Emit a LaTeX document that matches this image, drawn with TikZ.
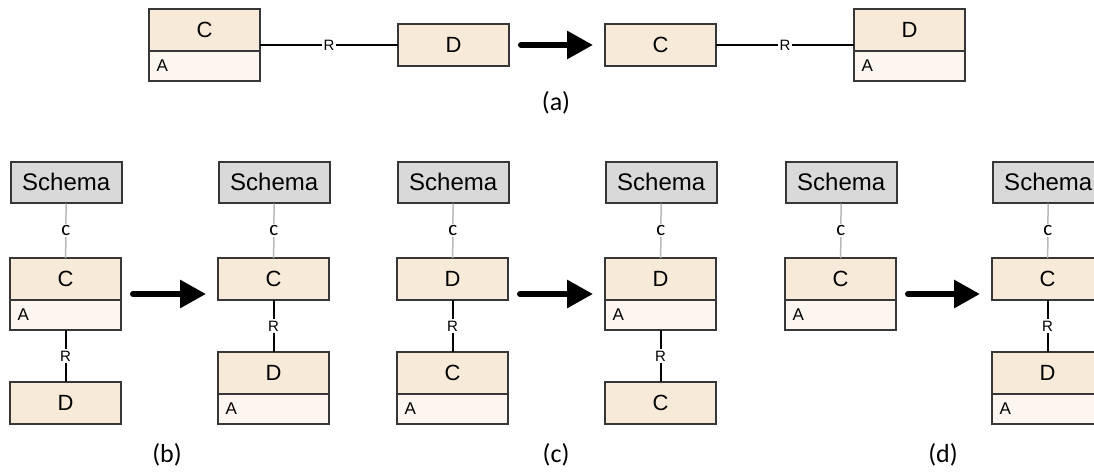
\documentclass[tikz,border=0pt]{standalone}
\usepackage{fontspec}
\setmainfont{Liberation Sans}
\newfontfamily\capfont{Carlito}
\usepackage{tikz}
\definecolor{headFill}{RGB}{248,234,216}
\definecolor{attrFill}{RGB}{253,246,240}
\definecolor{schemaGray}{RGB}{217,217,217}
\definecolor{boxLine}{RGB}{55,55,55}
\definecolor{containGray}{RGB}{185,185,185}
\usetikzlibrary{arrows.meta, positioning, fit}

\begin{document}
\begin{tikzpicture}[
    x=1pt, y=-1pt,
    classbox/.style={rectangle, draw=boxLine, line width=1.5pt, fill=headFill, minimum width=111pt, minimum height=42pt, outer sep=0pt, anchor=north west, font=\fontsize{22}{24}\selectfont},
    attrbox/.style={rectangle, draw=boxLine, line width=1.5pt, fill=attrFill, text width=96pt, inner xsep=7.5pt, align=left, minimum height=30pt, outer sep=0pt, font=\fontsize{17}{18}\selectfont},
    wholebox/.style={inner sep=0pt, outer sep=0pt},
    schemabox/.style={rectangle, draw=boxLine, line width=1.5pt, fill=schemaGray, minimum width=111pt, minimum height=41pt, anchor=north west, font=\fontsize{24}{26}\selectfont},
    rel/.style={draw=black, line width=1.3pt},
    relv/.style={draw=black, line width=2pt},
    contain/.style={draw=containGray, line width=1.5pt},
    rlabel/.style={fill=white, inner sep=1.5pt, font=\fontsize{15}{16}\selectfont},
    clabel/.style={fill=white, inner sep=1.5pt, font=\capfont\fontsize{21}{22}\selectfont},
    bigarrow/.style={line width=6pt, line cap=round, shorten <=12pt, shorten >=12pt, -{Triangle[length=26pt,width=27pt]}},
    caption/.style={font=\capfont\fontsize{26}{28}\selectfont}
]
    \useasboundingbox (0,0) rectangle (1094,471);

    % (a)
    \node[classbox] (aC1h) at (149,9) {C};
    \node[attrbox, below=0pt of aC1h] (aC1a) {A};
    \node[wholebox, fit=(aC1h)(aC1a)] (aC1) {};
    \node[classbox] (aD1) at (398,24) {D};
    \node[classbox] (aC2) at (605,24) {C};
    \node[classbox] (aD2h) at (854,9) {D};
    \node[attrbox, below=0pt of aD2h] (aD2a) {A};
    \node[wholebox, fit=(aD2h)(aD2a)] (aD2) {};
    \draw[rel] (aC1) -- node[rlabel] {R} (aD1);
    \draw[rel] (aC2) -- node[rlabel] {R} (aD2);
    \draw[bigarrow] (aD1) -- (aC2);
    \node[caption] (capA) at (556,103) {(a)};

    % (b)
    \node[schemabox] (b1S) at (10,161) {Schema};
    \node[classbox] (b1Ch) at (10,258) {C};
    \node[attrbox, below=0pt of b1Ch] (b1Ca) {A};
    \node[wholebox, fit=(b1Ch)(b1Ca)] (b1C) {};
    \node[classbox] (b1D) at (10,382) {D};
    \node[schemabox] (b2S) at (218,161) {Schema};
    \node[classbox] (b2C) at (218,258) {C};
    \node[classbox] (b2Dh) at (218,352) {D};
    \node[attrbox, below=0pt of b2Dh] (b2Da) {A};
    \draw[contain] (b1S) -- node[clabel] {c} (b1Ch);
    \draw[relv] (b1Ca) -- node[rlabel] {R} (b1D);
    \draw[contain] (b2S) -- node[clabel] {c} (b2C);
    \draw[relv] (b2C) -- node[rlabel] {R} (b2Dh);
    \draw[bigarrow] (b1C) -- (b1C -| b2C.west);
    \node[caption] (capB) at (167,455) {(b)};

    % (c)
    \node[schemabox] (c1S) at (397,161) {Schema};
    \node[classbox] (c1D) at (397,258) {D};
    \node[classbox] (c1Ch) at (397,352) {C};
    \node[attrbox, below=0pt of c1Ch] (c1Ca) {A};
    \node[schemabox] (c2S) at (605,161) {Schema};
    \node[classbox] (c2Dh) at (605,258) {D};
    \node[attrbox, below=0pt of c2Dh] (c2Da) {A};
    \node[wholebox, fit=(c2Dh)(c2Da)] (c2D) {};
    \node[classbox] (c2C) at (605,382) {C};
    \draw[contain] (c1S) -- node[clabel] {c} (c1D);
    \draw[relv] (c1D) -- node[rlabel] {R} (c1Ch);
    \draw[contain] (c2S) -- node[clabel] {c} (c2Dh);
    \draw[relv] (c2Da) -- node[rlabel] {R} (c2C);
    \draw[bigarrow] (c2D -| c1D.east) -- (c2D);
    \node[caption] (capC) at (556,455) {(c)};

    % (d)
    \node[schemabox] (d1S) at (785,161) {Schema};
    \node[classbox] (d1Ch) at (785,258) {C};
    \node[attrbox, below=0pt of d1Ch] (d1Ca) {A};
    \node[wholebox, fit=(d1Ch)(d1Ca)] (d1C) {};
    \node[schemabox] (d2S) at (992,161) {Schema};
    \node[classbox] (d2C) at (992,258) {C};
    \node[classbox] (d2Dh) at (992,352) {D};
    \node[attrbox, below=0pt of d2Dh] (d2Da) {A};
    \draw[contain] (d1S) -- node[clabel] {c} (d1Ch);
    \draw[contain] (d2S) -- node[clabel] {c} (d2C);
    \draw[relv] (d2C) -- node[rlabel] {R} (d2Dh);
    \draw[bigarrow] (d1C) -- (d1C -| d2C.west);
    \node[caption] (capD) at (943,455) {(d)};
\end{tikzpicture}
\end{document}
